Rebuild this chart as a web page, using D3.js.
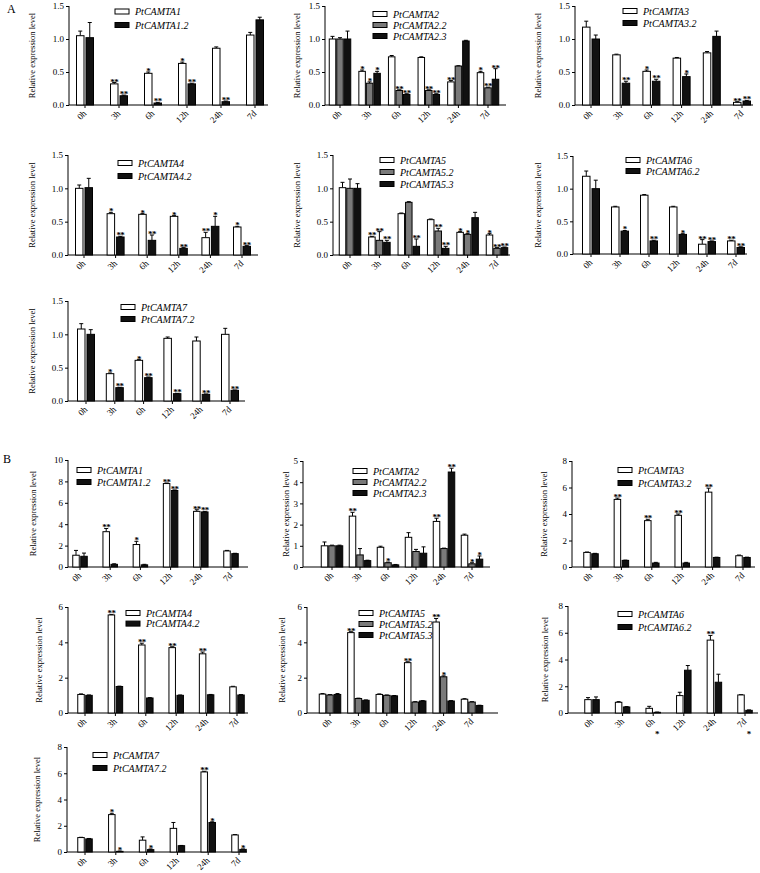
<!DOCTYPE html>
<html><head><meta charset="utf-8">
<script src="https://cdn.jsdelivr.net/npm/d3@7"></script>
<style>body{margin:0;background:#fff}svg{display:block}</style>
</head><body>
<svg id="c" width="760" height="873"></svg>
<script>
const categories = ["0h","3h","6h","12h","24h","7d"];

// ---------- Panel A ----------
const a1Series = ["PtCAMTA1","PtCAMTA1.2"];
const a1Values = [[1.05,0.32,0.48,0.63,0.86,1.06],[1.02,0.14,0.03,0.32,0.05,1.29]];
const a1Errors = [[0.07,0.02,0.02,0.02,0.02,0.04],[0.23,0.01,0.01,0.01,0.01,0.04]];
const a1Marks  = [["","**","*","*","",""],["","**","**","**","**",""]];

const a2Series = ["PtCAMTA2","PtCAMTA2.2","PtCAMTA2.3"];
const a2Values = [[1.0,0.51,0.73,0.72,0.35,0.49],[1.0,0.33,0.22,0.22,0.59,0.26],[1.0,0.48,0.16,0.16,0.97,0.39]];
const a2Errors = [[0.04,0.02,0.02,0.01,0.02,0.02],[0.02,0.02,0.01,0.01,0.005,0.01],[0.12,0.03,0.01,0.01,0.01,0.16]];
const a2Marks  = [["","*","","","**","*"],["","*","**","**","","**"],["","*","**","**","","**"]];

const a3Series = ["PtCAMTA3","PtCAMTA3.2"];
const a3Values = [[1.18,0.76,0.51,0.71,0.79,0.04],[1.00,0.33,0.36,0.43,1.04,0.06]];
const a3Errors = [[0.09,0.01,0.02,0.01,0.02,0.01],[0.06,0.03,0.03,0.04,0.08,0.01]];
const a3Marks  = [["","","*","","","**"],["","**","**","*","","**"]];

const a4Series = ["PtCAMTA4","PtCAMTA4.2"];
const a4Values = [[1.0,0.62,0.61,0.58,0.26,0.42],[1.01,0.27,0.22,0.10,0.43,0.13]];
const a4Errors = [[0.05,0.02,0.01,0.01,0.08,0.01],[0.14,0.01,0.08,0.01,0.15,0.01]];
const a4Marks  = [["","*","*","*","**","*"],["","**","**","**","*","**"]];

const a5Series = ["PtCAMTA5","PtCAMTA5.2","PtCAMTA5.3"];
const a5Values = [[1.01,0.27,0.62,0.53,0.34,0.30],[1.00,0.22,0.79,0.36,0.31,0.10],[1.00,0.19,0.13,0.10,0.56,0.11]];
const a5Errors = [[0.08,0.01,0.01,0.01,0.01,0.02],[0.14,0.13,0.01,0.04,0.01,0.01],[0.07,0.03,0.11,0.03,0.08,0.01]];
const a5Marks  = [["","**","","","*","*"],["","**","","**","*","**"],["","**","**","**","","**"]];

const a6Series = ["PtCAMTA6","PtCAMTA6.2"];
const a6Values = [[1.19,0.72,0.90,0.72,0.15,0.20],[1.00,0.35,0.20,0.30,0.19,0.10]];
const a6Errors = [[0.08,0.01,0.01,0.01,0.07,0.01],[0.13,0.01,0.01,0.01,0.01,0.01]];
const a6Marks  = [["","","","","**","**"],["","*","**","*","**","**"]];

const a7Series = ["PtCAMTA7","PtCAMTA7.2"];
const a7Values = [[1.08,0.41,0.61,0.94,0.90,1.00],[1.00,0.20,0.35,0.11,0.10,0.16]];
const a7Errors = [[0.08,0.01,0.01,0.02,0.06,0.09],[0.07,0.005,0.01,0.005,0.005,0.005]];
const a7Marks  = [["","*","*","","",""],["","**","**","**","**","**"]];

// ---------- Panel B ----------
const b1Series = ["PtCAMTA1","PtCAMTA1.2"];
const b1Values = [[1.1,3.3,2.1,7.8,5.2,1.5],[1.0,0.25,0.2,7.15,5.15,1.25]];
const b1Errors = [[0.45,0.3,0.3,0.05,0.15,0.05],[0.3,0.05,0.05,0.05,0.05,0.03]];
const b1Marks  = [["","**","*","**","**",""],["","","","**","**",""]];

const b2Series = ["PtCAMTA2","PtCAMTA2.2","PtCAMTA2.3"];
const b2Values = [[1.0,2.4,0.93,1.4,2.15,1.5],[1.0,0.57,0.2,0.73,0.87,0.15],[1.0,0.3,0.1,0.65,4.48,0.37]];
const b2Errors = [[0.18,0.18,0.05,0.22,0.15,0.05],[0.03,0.3,0.03,0.1,0.02,0.05],[0.03,0.02,0.02,0.3,0.18,0.15]];
const b2Marks  = [["","**","","","**",""],["","","*","","","*"],["","","","","**","*"]];

const b3Series = ["PtCAMTA3","PtCAMTA3.2"];
const b3Values = [[1.1,5.1,3.5,3.9,5.65,0.85],[1.0,0.5,0.3,0.3,0.72,0.72]];
const b3Errors = [[0.03,0.1,0.1,0.1,0.3,0.05],[0.03,0.02,0.05,0.05,0.02,0.02]];
const b3Marks  = [["","**","**","**","**",""],["","","","","",""]];

const b4Series = ["PtCAMTA4","PtCAMTA4.2"];
const b4Values = [[1.05,5.55,3.85,3.7,3.35,1.48],[1.0,1.5,0.85,1.0,1.03,1.02]];
const b4Errors = [[0.03,0.03,0.1,0.05,0.1,0.03],[0.02,0.02,0.02,0.02,0.02,0.02]];
const b4Marks  = [["","**","**","**","**",""],["","","","","",""]];

const b5Series = ["PtCAMTA5","PtCAMTA5.2","PtCAMTA5.3"];
const b5Values = [[1.07,4.55,1.05,2.85,5.15,0.78],[1.02,0.82,1.0,0.62,2.05,0.62],[1.05,0.72,0.97,0.68,0.68,0.42]];
const b5Errors = [[0.03,0.05,0.03,0.05,0.2,0.03],[0.02,0.02,0.02,0.02,0.05,0.02],[0.05,0.02,0.02,0.02,0.02,0.02]];
const b5Marks  = [["","**","","**","**",""],["","","","","*",""],["","","","","",""]];

const b6Series = ["PtCAMTA6","PtCAMTA6.2"];
const b6Values = [[1.0,0.8,0.35,1.3,5.45,1.35],[1.0,0.45,0.05,3.2,2.3,0.2]];
const b6Errors = [[0.15,0.05,0.15,0.25,0.35,0.02],[0.2,0.03,0.02,0.35,0.6,0.03]];
const b6Marks  = [["","","","","**",""],["","","","","",""]];
const b6MarksBelowAxis = [["","","","","",""],["","","*","","","*"]];

const b7Series = ["PtCAMTA7","PtCAMTA7.2"];
const b7Values = [[1.1,2.85,0.9,1.8,6.1,1.3],[1.0,0.05,0.18,0.48,2.25,0.2]];
const b7Errors = [[0.02,0.1,0.25,0.45,0.05,0.03],[0.03,0.02,0.05,0.02,0.05,0.03]];
const b7Marks  = [["","*","","","**",""],["","*","*","","*","*"]];

const aTicks = [0,0.5,1.0,1.5];

// ---------- layout (positions only) ----------
const panels = [
 {s:a1Series,v:a1Values,e:a1Errors,m:a1Marks,max:1.5,ticks:aTicks,fmt:".1f",x0:69,c0:85,c5:255,x1:268,yT:6,yB:105,lx:115,ly:11.5,ldy:13.5,yl:32,bw:7.5,gap:2},
 {s:a2Series,v:a2Values,e:a2Errors,m:a2Marks,max:1.5,ticks:aTicks,fmt:".1f",x0:325,c0:340,c5:488,x1:506,yT:6,yB:105,lx:373,ly:14,ldy:11,yl:297,bw:6.5,gap:1},
 {s:a3Series,v:a3Values,e:a3Errors,m:a3Marks,max:1.5,ticks:aTicks,fmt:".1f",x0:575,c0:591,c5:742,x1:753,yT:6,yB:105,lx:623,ly:11,ldy:12,yl:538,bw:7.5,gap:2},
 {s:a4Series,v:a4Values,e:a4Errors,m:a4Marks,max:1.5,ticks:aTicks,fmt:".1f",x0:68,c0:84,c5:242,x1:258,yT:155,yB:255,lx:118,ly:163,ldy:13,yl:32,bw:7.5,gap:2},
 {s:a5Series,v:a5Values,e:a5Errors,m:a5Marks,max:1.5,ticks:aTicks,fmt:".1f",x0:333,c0:350,c5:497,x1:510,yT:155,yB:255,lx:380,ly:160,ldy:12,yl:297,bw:6.5,gap:1},
 {s:a6Series,v:a6Values,e:a6Errors,m:a6Marks,max:1.5,ticks:aTicks,fmt:".1f",x0:573,c0:591,c5:736,x1:747,yT:156,yB:254,lx:626,ly:160,ldy:11,yl:538,bw:7.5,gap:2},
 {s:a7Series,v:a7Values,e:a7Errors,m:a7Marks,max:1.5,ticks:aTicks,fmt:".1f",x0:68,c0:86,c5:230,x1:245,yT:301,yB:401,lx:121,ly:307,ldy:12,yl:32,bw:7.5,gap:2},
 {s:b1Series,v:b1Values,e:b1Errors,m:b1Marks,max:10,ticks:[0,2,4,6,8,10],fmt:"d",x0:68,c0:80,c5:231,x1:248,yT:460,yB:567,lx:77,ly:470,ldy:12,yl:33,bw:6.5,gap:1.5},
 {s:b2Series,v:b2Values,e:b2Errors,m:b2Marks,max:5,ticks:[0,1,2,3,4,5],fmt:"d",x0:303,c0:332,c5:472,x1:490,yT:461,yB:567,lx:353,ly:471,ldy:11,yl:286,bw:6.5,gap:1},
 {s:b3Series,v:b3Values,e:b3Errors,m:b3Marks,max:8,ticks:[0,2,4,6,8],fmt:"d",x0:572,c0:591,c5:743,x1:755,yT:461,yB:567,lx:618,ly:470,ldy:13,yl:544,bw:6.5,gap:1.5},
 {s:b4Series,v:b4Values,e:b4Errors,m:b4Marks,max:6,ticks:[0,2,4,6],fmt:"d",x0:68,c0:85,c5:237,x1:248,yT:607,yB:713,lx:126,ly:613,ldy:10.6,yl:39,bw:6.5,gap:1.5},
 {s:b5Series,v:b5Values,e:b5Errors,m:b5Marks,max:6,ticks:[0,2,4,6],fmt:"d",x0:307,c0:330,c5:472,x1:498,yT:607,yB:713,lx:359,ly:613,ldy:11,yl:282,bw:6.5,gap:1},
 {s:b6Series,v:b6Values,e:b6Errors,m:b6Marks,mb:b6MarksBelowAxis,max:8,ticks:[0,2,4,6,8],fmt:"d",x0:568,c0:592,c5:745,x1:758,yT:606,yB:713,lx:618,ly:614,ldy:13,yl:545,bw:6.5,gap:1.5},
 {s:b7Series,v:b7Values,e:b7Errors,m:b7Marks,max:8,ticks:[0,2,4,6,8],fmt:"d",x0:67,c0:85,c5:239,x1:247,yT:747,yB:852,lx:93,ly:755,ldy:13,yl:37,bw:6.5,gap:1.5}
];

const svg = d3.select("#c");
const SERIF = "'Liberation Serif','Times New Roman',serif";
const fills2 = ["#ffffff","#111111"];
const fills3 = ["#ffffff","#7a7a7a","#111111"];

svg.append("text").attr("x",7).attr("y",13).attr("font-family",SERIF).attr("font-size",12).attr("fill","#000").text("A");
svg.append("text").attr("x",3).attr("y",463).attr("font-family",SERIF).attr("font-size",12).attr("fill","#000").text("B");

panels.forEach(p => {
  const g = svg.append("g");
  const fills = p.s.length === 3 ? fills3 : fills2;
  const x = d3.scalePoint().domain(categories).range([p.c0, p.c5]);
  const y = d3.scaleLinear().domain([0, p.max]).range([p.yB, p.yT]);
  const n = p.s.length;
  const groupW = n * p.bw + (n - 1) * p.gap;
  const off = i => -groupW/2 + i*(p.bw + p.gap);

  // y axis
  const ya = g.append("g").attr("transform",`translate(${p.x0},0)`)
    .call(d3.axisLeft(y).tickValues(p.ticks).tickFormat(d3.format(p.fmt)).tickSize(3).tickPadding(2));
  ya.select(".domain").attr("d",`M0,${p.yT}V${p.yB}`).attr("stroke","#000");
  ya.selectAll(".tick line").attr("stroke","#000");
  ya.selectAll("text").attr("font-family",SERIF).attr("font-size",9).attr("fill","#000");

  // x axis line + ticks
  g.append("line").attr("x1",p.x0).attr("x2",p.x1).attr("y1",p.yB).attr("y2",p.yB).attr("stroke","#000");
  categories.forEach(c => {
    g.append("line").attr("x1",x(c)).attr("x2",x(c)).attr("y1",p.yB).attr("y2",p.yB+3).attr("stroke","#000");
    g.append("text").attr("transform",`translate(${x(c)+2},${p.yB+9}) rotate(-45)`)
      .attr("text-anchor","end").attr("font-family",SERIF).attr("font-size",9).attr("fill","#000").text(c);
  });

  // y label
  g.append("text").attr("transform",`translate(${p.yl},${(p.yT+p.yB)/2}) rotate(-90)`)
    .attr("text-anchor","middle").attr("dominant-baseline","central")
    .attr("font-family",SERIF).attr("font-size",8.5).attr("fill","#000").text("Relative expression level");

  // bars
  p.s.forEach((name, si) => {
    categories.forEach((c, ci) => {
      const val = p.v[si][ci], err = p.e[si][ci];
      const bx = x(c) + off(si);
      const cx = bx + p.bw/2;
      const yt = y(val + err);
      g.append("line").attr("x1",cx).attr("x2",cx).attr("y1",y(val)).attr("y2",yt).attr("stroke","#000").attr("stroke-width",1);
      g.append("line").attr("x1",cx-2).attr("x2",cx+2).attr("y1",yt).attr("y2",yt).attr("stroke","#000").attr("stroke-width",1);
      g.append("rect").attr("x",bx).attr("y",y(val)).attr("width",p.bw).attr("height",Math.max(0.5,y(0)-y(val)))
        .attr("fill",fills[si]).attr("stroke","#000").attr("stroke-width",1);
      const mk = p.m[si][ci];
      if (mk) g.append("text").attr("x",cx).attr("y",yt+2).attr("text-anchor","middle")
        .attr("font-family",SERIF).attr("font-size",9).attr("font-weight","bold").attr("letter-spacing",-0.6).attr("fill","#000").text(mk);
      if (p.mb && p.mb[si][ci]) g.append("text").attr("x",cx).attr("y",p.yB+24).attr("text-anchor","middle")
        .attr("font-family",SERIF).attr("font-size",9).attr("font-weight","bold").attr("fill","#000").text(p.mb[si][ci]);
    });
  });

  // legend
  p.s.forEach((name, si) => {
    const ly = p.ly + si*p.ldy;
    g.append("rect").attr("x",p.lx).attr("y",ly-2.5).attr("width",14).attr("height",5)
      .attr("fill",fills[si]).attr("stroke","#000").attr("stroke-width",1);
    g.append("text").attr("x",p.lx+20).attr("y",ly).attr("dominant-baseline","central")
      .attr("font-family",SERIF).attr("font-style","italic").attr("font-size",10).attr("fill","#000").text(name);
  });
});
</script>
</body></html>
